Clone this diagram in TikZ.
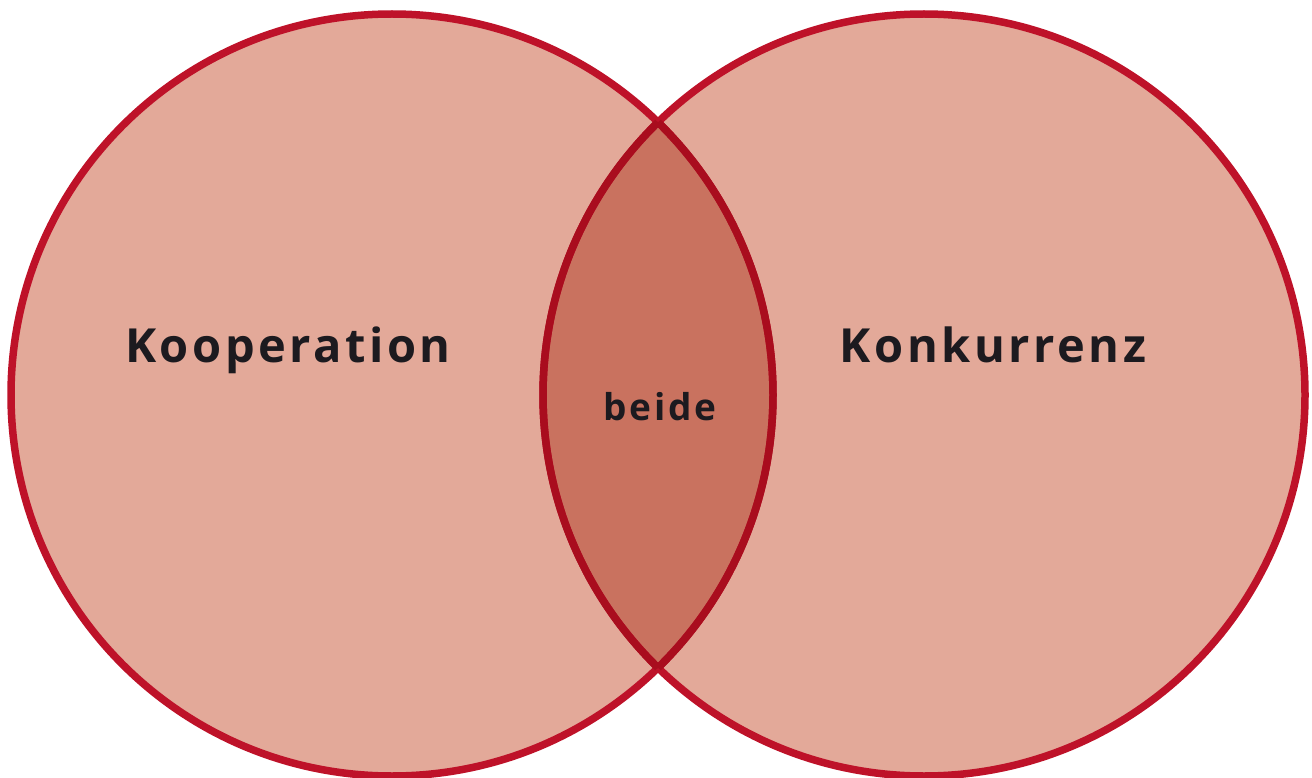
\documentclass[tikz,border=0pt]{standalone}
\usepackage{fontspec}
\setmainfont{Open Sans}
\definecolor{fillc}{HTML}{E3A999}
\definecolor{lensc}{HTML}{C9725F}
\definecolor{strokec}{HTML}{BE1229}
\definecolor{strokedk}{HTML}{A90D1E}
\definecolor{textc}{HTML}{1C1A1F}
\tikzset{
  lbl/.style={text=textc, font=\bfseries\fontsize{47}{50}\selectfont\addfontfeatures{LetterSpace=7.5}, anchor=base},
  smalllbl/.style={text=textc, font=\bfseries\fontsize{37}{40}\selectfont\addfontfeatures{LetterSpace=8}, anchor=base},
  ring/.style={draw=strokec, line width=7.5pt}
}
\begin{document}
\begin{tikzpicture}[x=1pt,y=-1pt]
\useasboundingbox (0,0) rectangle (1312,778);
\coordinate (cl) at (392,395);
\coordinate (cr) at (924,395);
\fill[fillc] (cl) circle (381);
\fill[fillc] (cr) circle (381);
\begin{scope}
  \clip (cl) circle (381);
  \fill[lensc] (cr) circle (381);
\end{scope}
\draw[ring] (cl) circle (381);
\draw[ring] (cr) circle (381);
\begin{scope}
  \clip (cl) circle (381);
  \draw[ring, draw=strokedk] (cr) circle (381);
\end{scope}
\begin{scope}
  \clip (cr) circle (381);
  \draw[ring, draw=strokedk] (cl) circle (381);
\end{scope}
\node[lbl] (koop) at (288,362) {Kooperation};
\node[lbl] (konk) at (993,362) {Konkurrenz};
\node[smalllbl] (beide) at (660,420) {beide};
\end{tikzpicture}
\end{document}
